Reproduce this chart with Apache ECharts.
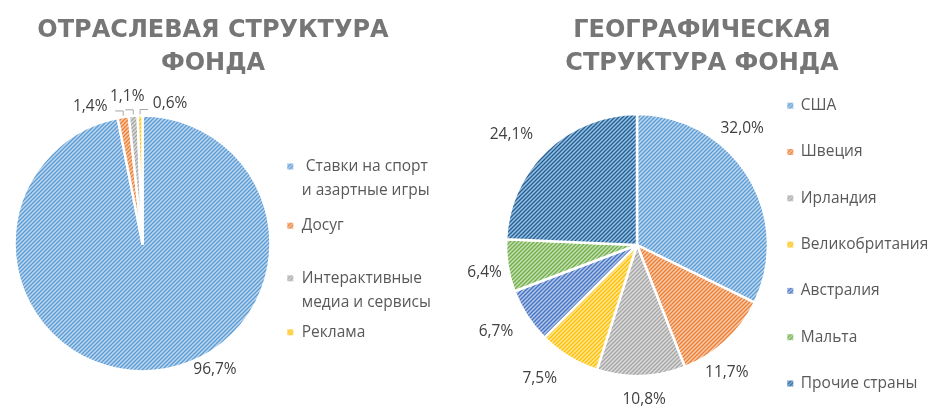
<!DOCTYPE html>
<html>
<head>
<meta charset="utf-8">
<script src="https://cdn.jsdelivr.net/npm/echarts@6.0.0/dist/echarts.min.js"></script>
<style>
html,body{margin:0;padding:0;background:#ffffff;}
#chart{width:943px;height:418px;}
</style>
</head>
<body>
<div id="chart"></div>
<script>
// ---------- DATA ----------
const sectorNames = [' Ставки на спорт и азартные игры', 'Досуг', 'Интерактивные медиа и сервисы', 'Реклама'];
const sectorValues = [96.7, 1.4, 1.1, 0.6];
const geoNames = ['США', 'Швеция', 'Ирландия', 'Великобритания', 'Австралия', 'Мальта', 'Прочие страны'];
const geoValues = [32.0, 11.7, 10.8, 7.5, 6.7, 6.4, 24.1];
const titleLeft = 'ОТРАСЛЕВАЯ СТРУКТУРА\nФОНДА';
const titleRight = 'ГЕОГРАФИЧЕСКАЯ\nСТРУКТУРА ФОНДА';

// ---------- STYLE / LAYOUT ----------
const sectorColors = ['#5B9BD5', '#ED7D31', '#A5A5A5', '#FFC000'];
const geoColors = ['#5B9BD5', '#ED7D31', '#A5A5A5', '#FFC000', '#4472C4', '#70AD47', '#255E91'];
const pieL = {cx: 142.5, cy: 243.5, r: 128};
const pieR = {cx: 637, cy: 245, r: 131};
// label nudges relative to the slice's outer edge at its mid angle
const sectorLabelShift = [[60, -1], [-33, -10], [-6, -19], [30, -12]];
const sectorLeader = [false, true, true, true];
const geoLabelShift = [[-6, -47], [1, 31], [3, 24], [-29, 22], [-31, 16], [-23, 7], [-35, -16]];
const sectorLegendY = [166.5, 225.7, 278.3, 332.3];
const sectorLegendWrap = 138;
const geoLegendTopY = 105.7;
const geoLegendStep = 46.3;

const labelFont = 'Open Sans';
const legendSize = 15.5;
const labelColor = '#404040';
const legendColor = '#595959';

function tint(hex, f) {
  let r = parseInt(hex.slice(1, 3), 16) / 255, g = parseInt(hex.slice(3, 5), 16) / 255, b = parseInt(hex.slice(5, 7), 16) / 255;
  const max = Math.max(r, g, b), min = Math.min(r, g, b);
  let h = 0, s = 0, l = (max + min) / 2;
  if (max !== min) {
    const d = max - min;
    s = l > 0.5 ? d / (2 - max - min) : d / (max + min);
    if (max === r) h = (g - b) / d + (g < b ? 6 : 0);
    else if (max === g) h = (b - r) / d + 2;
    else h = (r - g) / d + 4;
    h /= 6;
  }
  l = l + (1 - l) * f;
  function hue2rgb(p, q, t) {
    if (t < 0) t += 1; if (t > 1) t -= 1;
    if (t < 1 / 6) return p + (q - p) * 6 * t;
    if (t < 1 / 2) return q;
    if (t < 2 / 3) return p + (q - p) * (2 / 3 - t) * 6;
    return p;
  }
  let rr, gg, bb;
  if (s === 0) { rr = gg = bb = l; } else {
    const q = l < 0.5 ? l * (1 + s) : l + s - l * s;
    const p = 2 * l - q;
    rr = hue2rgb(p, q, h + 1 / 3); gg = hue2rgb(p, q, h); bb = hue2rgb(p, q, h - 1 / 3);
  }
  const to = v => Math.round(v * 255);
  return 'rgb(' + to(rr) + ',' + to(gg) + ',' + to(bb) + ')';
}

function hatch(hex) {
  const c = document.createElement('canvas');
  c.width = 4; c.height = 4;
  const g = c.getContext('2d');
  g.fillStyle = tint(hex, 0.6);
  g.fillRect(0, 0, 4, 4);
  g.strokeStyle = hex;
  g.lineWidth = 1.3;
  g.beginPath();
  g.moveTo(-1, 5); g.lineTo(5, -1);
  g.moveTo(-1, 1); g.lineTo(1, -1);
  g.moveTo(3, 5); g.lineTo(5, 3);
  g.stroke();
  return {image: c, repeat: 'repeat'};
}

// word wrap measured with the legend font
const measureCtx = document.createElement('canvas').getContext('2d');
function wrapLines(text, maxW) {
  measureCtx.font = legendSize + 'px "' + labelFont + '"';
  const lead = text.match(/^\s*/)[0];
  const words = text.trim().split(/\s+/);
  const lines = [];
  let cur = lead;
  words.forEach(w => {
    const trial = (cur.trim().length ? cur + ' ' : cur) + w;
    if (measureCtx.measureText(trial).width > maxW && cur.trim().length) {
      lines.push(cur);
      cur = w;
    } else {
      cur = trial;
    }
  });
  lines.push(cur);
  return lines;
}

function placeLabel(geo, values, shift, leader, i) {
  const total = values.reduce((a, b) => a + b, 0);
  let cum = 0;
  for (let k = 0; k < i; k++) cum += values[k];
  const a = (cum + values[i] / 2) / total * 2 * Math.PI;
  const ex = geo.cx + geo.r * Math.sin(a);
  const ey = geo.cy - geo.r * Math.cos(a);
  const res = {x: ex + shift[i][0], y: ey + shift[i][1], align: 'center', verticalAlign: 'middle'};
  if (leader && leader[i]) {
    const dir = Math.sign(shift[i][0]) || 1;
    res.labelLinePoints = [[ex, ey], [ex, ey - 6], [ex + dir * 8, ey - 6]];
  }
  return res;
}

const pct = p => p.value.toFixed(1).replace('.', ',') + '%';

function pieSeries(geo, names, values, colors, shift, leader) {
  return {
    type: 'pie',
    center: [geo.cx, geo.cy],
    radius: geo.r,
    startAngle: 90,
    clockwise: true,
    avoidLabelOverlap: false,
    animation: false,
    emphasis: {disabled: true},
    itemStyle: {borderColor: '#ffffff', borderWidth: 2.5},
    label: {show: true, position: 'outside', formatter: pct, color: labelColor, fontFamily: labelFont, fontSize: 15.5},
    labelLine: {show: true, length: 5, length2: 5, lineStyle: {color: '#A6A6A6', width: 1}},
    labelLayout: p => placeLabel(geo, values, shift, leader, p.dataIndex),
    data: names.map((n, i) => ({
      name: n,
      value: values[i],
      itemStyle: {color: hatch(colors[i])},
      labelLine: {show: !!(leader && leader[i])}
    }))
  };
}

const legendText = {fontFamily: labelFont, fontSize: legendSize, color: legendColor};

const legends = sectorNames.map((n, i) => {
  const lh = 24;
  const lines = wrapLines(n, sectorLegendWrap);
  // blank lines above keep the icon level with the first text line
  const blanks = new Array(lines.length - 1).fill(' ');
  const text = blanks.concat(lines).join('\n');
  const boxH = (blanks.length + lines.length) * lh;
  return {
    orient: 'vertical', left: 287.3, top: sectorLegendY[i] - boxH / 2, padding: 0,
    data: [n], icon: 'rect', itemWidth: 6, itemHeight: 6,
    itemStyle: {borderWidth: 0},
    selectedMode: false,
    formatter: () => text,
    textStyle: Object.assign({}, legendText, {lineHeight: lh, padding: [0, 0, 0, 3.5]})
  };
});
legends.push({
  orient: 'vertical', left: 787.3, top: geoLegendTopY - 10, padding: 0,
  itemGap: geoLegendStep - 20,
  data: geoNames, icon: 'rect', itemWidth: 6, itemHeight: 6,
  itemStyle: {borderWidth: 0},
  selectedMode: false,
  textStyle: Object.assign({}, legendText, {lineHeight: 20, padding: [0, 0, 0, 2.5]})
});

const titleStyle = {fontFamily: 'DejaVu Sans', fontWeight: 'bold', fontSize: 24, fill: '#767676', lineHeight: 33, align: 'center', verticalAlign: 'top'};

const chart = echarts.init(document.getElementById('chart'), null, {renderer: 'canvas'});
chart.setOption({
  animation: false,
  backgroundColor: '#ffffff',
  graphic: [
    {type: 'text', x: 213, y: 14.5, style: Object.assign({text: titleLeft}, titleStyle)},
    {type: 'text', x: 702, y: 14.5, style: Object.assign({text: titleRight}, titleStyle)}
  ],
  legend: legends,
  series: [
    pieSeries(pieL, sectorNames, sectorValues, sectorColors, sectorLabelShift, sectorLeader),
    pieSeries(pieR, geoNames, geoValues, geoColors, geoLabelShift, null)
  ]
});
</script>
</body>
</html>
